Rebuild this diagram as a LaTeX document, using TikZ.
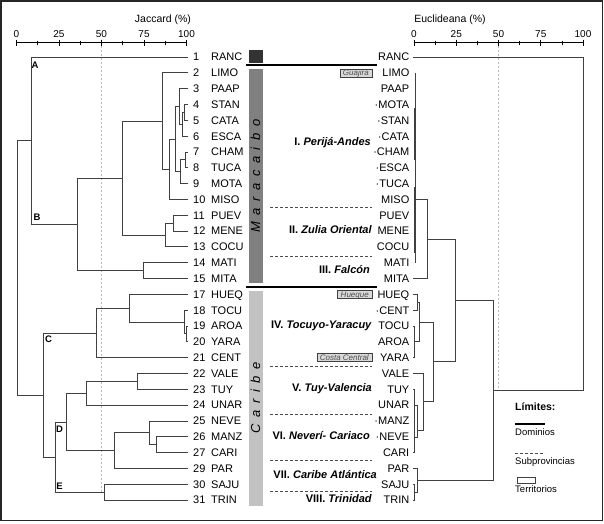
\documentclass[tikz,border=0pt]{standalone}
\usepackage{fontspec}
\setmainfont{Liberation Sans}
\usepackage{xcolor}
\definecolor{darkbar}{gray}{0.2}
\definecolor{marabar}{gray}{0.5}
\definecolor{caribar}{gray}{0.76}
\definecolor{treeline}{gray}{0.25}

\begin{document}
\begin{tikzpicture}[x=1pt,y=-1pt,
  tree/.style={treeline,line width=0.8pt},
  lab/.style={font=\fontsize{11}{12}\selectfont,text height=7.9pt,text depth=0pt},
  num/.style={lab,anchor=west},
  lname/.style={lab,anchor=west},
  rname/.style={lab,anchor=east},
  axistitle/.style={font=\fontsize{10.5}{12}\selectfont},
  ticklab/.style={font=\fontsize{10}{12}\selectfont,text height=7.2pt,text depth=0pt},
  clus/.style={font=\fontsize{9.5}{10}\selectfont\bfseries},
  subprov/.style={font=\fontsize{11}{12}\selectfont\bfseries,anchor=east,text height=7.9pt,text depth=2pt},
  terr/.style={draw=black!75,fill=gray!30,text=black!70,line width=0.5pt,anchor=east,
    font=\fontsize{8}{9}\selectfont\itshape,inner xsep=3pt,inner ysep=1pt,text height=5.8pt,text depth=0pt},
  barlab/.style={rotate=90,font=\fontsize{13}{14}\selectfont\itshape\addfontfeature{LetterSpace=50}},
  sep/.style={black!70,line width=0.6pt,dash pattern=on 3pt off 2pt},
  dom/.style={black,line width=2.6pt},
  guide/.style={gray!55,line width=0.6pt,dash pattern=on 2pt off 2pt},
  legtext/.style={font=\fontsize{9.5}{11}\selectfont,anchor=west}]
\tikzstyle{every node}+=[inner sep=0pt]
\useasboundingbox (0,0) rectangle (604,523);
\draw [black!85,line width=1.2pt] (1,1) rectangle (602.5,520.5);
% axes
\draw (163,20) node[axistitle] (jac) {Jaccard (\%)};
\draw (450,20) node[axistitle] (euc) {Euclideana (\%)};
\draw [black,line width=0.8pt] (16.5,42.5) -- (186.5,42.5)
  (16.5,39.5) -- (16.5,45.5) (59,39.5) -- (59,45.5) (101.5,39.5) -- (101.5,45.5)
  (144,39.5) -- (144,45.5) (186.5,39.5) -- (186.5,45.5)
  (37.75,40.5) -- (37.75,44.5) (80.25,40.5) -- (80.25,44.5)
  (122.75,40.5) -- (122.75,44.5) (165.25,40.5) -- (165.25,44.5);
\draw [black,line width=0.8pt] (414,42.5) -- (583,42.5)
  (414,39.5) -- (414,45.5) (456.25,39.5) -- (456.25,45.5) (498.5,39.5) -- (498.5,45.5)
  (540.75,39.5) -- (540.75,45.5) (583,39.5) -- (583,45.5)
  (435.1,40.5) -- (435.1,44.5) (477.4,40.5) -- (477.4,44.5)
  (519.6,40.5) -- (519.6,44.5) (561.9,40.5) -- (561.9,44.5);
\draw (16.5,33.5) node[ticklab] {0} (59,33.5) node[ticklab] {25} (101.5,33.5) node[ticklab] {50}
  (144,33.5) node[ticklab] {75} (186.5,33.5) node[ticklab] {100};
\draw (414,33.5) node[ticklab] {0} (456.25,33.5) node[ticklab] {25} (498.5,33.5) node[ticklab] {50}
  (540.75,33.5) node[ticklab] {75} (583,33.5) node[ticklab] {100};
\draw [guide] (101.5,46) -- (101.5,493);
\draw [guide] (498.5,46) -- (498.5,388);
% bars
\fill [darkbar] (248.5,49.5) rectangle (263,63);
\fill [marabar] (248.5,69) rectangle (263,283);
\fill [caribar] (248.5,291) rectangle (263,506);
\draw (255.5,176) node[barlab] (mara) {Maracaibo};
\draw (255.5,398) node[barlab] (cari) {Caribe};
\draw [dom] (246,65) -- (377,65);
\draw [dom] (246,287) -- (377,287);
% leaves
\draw (193,57) node[num] (n1) {1} (211,57) node[lname] (l1) {RANC} (409.5,57) node[rname] (r1) {RANC};
\draw (193,72.8) node[num] (n2) {2} (211,72.8) node[lname] (l2) {LIMO} (409.5,72.8) node[rname] (r2) {LIMO};
\draw (193,88.6) node[num] (n3) {3} (211,88.6) node[lname] (l3) {PAAP} (409.5,88.6) node[rname] (r3) {PAAP};
\draw (193,104.5) node[num] (n4) {4} (211,104.5) node[lname] (l4) {STAN} (409.5,104.5) node[rname] (r4) {·MOTA};
\draw (193,120.3) node[num] (n5) {5} (211,120.3) node[lname] (l5) {CATA} (409.5,120.3) node[rname] (r5) {·STAN};
\draw (193,136.1) node[num] (n6) {6} (211,136.1) node[lname] (l6) {ESCA} (409.5,136.1) node[rname] (r6) {·CATA};
\draw (193,151.9) node[num] (n7) {7} (211,151.9) node[lname] (l7) {CHAM} (409.5,151.9) node[rname] (r7) {·CHAM};
\draw (193,167.7) node[num] (n8) {8} (211,167.7) node[lname] (l8) {TUCA} (409.5,167.7) node[rname] (r8) {·ESCA};
\draw (193,183.6) node[num] (n9) {9} (211,183.6) node[lname] (l9) {MOTA} (409.5,183.6) node[rname] (r9) {·TUCA};
\draw (193,199.4) node[num] (n10) {10} (211,199.4) node[lname] (l10) {MISO} (409.5,199.4) node[rname] (r10) {MISO};
\draw (193,215.2) node[num] (n11) {11} (211,215.2) node[lname] (l11) {PUEV} (409.5,215.2) node[rname] (r11) {PUEV};
\draw (193,231) node[num] (n12) {12} (211,231) node[lname] (l12) {MENE} (409.5,231) node[rname] (r12) {MENE};
\draw (193,246.8) node[num] (n13) {13} (211,246.8) node[lname] (l13) {COCU} (409.5,246.8) node[rname] (r13) {COCU};
\draw (193,262.7) node[num] (n14) {14} (211,262.7) node[lname] (l14) {MATI} (409.5,262.7) node[rname] (r14) {MATI};
\draw (193,278.5) node[num] (n15) {15} (211,278.5) node[lname] (l15) {MITA} (409.5,278.5) node[rname] (r15) {MITA};
\draw (193,294.3) node[num] (n17) {17} (211,294.3) node[lname] (l17) {HUEQ} (409.5,294.3) node[rname] (r17) {HUEQ};
\draw (193,310.1) node[num] (n18) {18} (211,310.1) node[lname] (l18) {TOCU} (409.5,310.1) node[rname] (r18) {·CENT};
\draw (193,325.9) node[num] (n19) {19} (211,325.9) node[lname] (l19) {AROA} (409.5,325.9) node[rname] (r19) {TOCU};
\draw (193,341.8) node[num] (n20) {20} (211,341.8) node[lname] (l20) {YARA} (409.5,341.8) node[rname] (r20) {AROA};
\draw (193,357.6) node[num] (n21) {21} (211,357.6) node[lname] (l21) {CENT} (409.5,357.6) node[rname] (r21) {YARA};
\draw (193,373.4) node[num] (n22) {22} (211,373.4) node[lname] (l22) {VALE} (409.5,373.4) node[rname] (r22) {VALE};
\draw (193,389.2) node[num] (n23) {23} (211,389.2) node[lname] (l23) {TUY} (409.5,389.2) node[rname] (r23) {TUY};
\draw (193,405) node[num] (n24) {24} (211,405) node[lname] (l24) {UNAR} (409.5,405) node[rname] (r24) {UNAR};
\draw (193,420.9) node[num] (n25) {25} (211,420.9) node[lname] (l25) {NEVE} (409.5,420.9) node[rname] (r25) {·MANZ};
\draw (193,436.7) node[num] (n26) {26} (211,436.7) node[lname] (l26) {MANZ} (409.5,436.7) node[rname] (r26) {·NEVE};
\draw (193,452.5) node[num] (n27) {27} (211,452.5) node[lname] (l27) {CARI} (409.5,452.5) node[rname] (r27) {CARI};
\draw (193,468.3) node[num] (n29) {29} (211,468.3) node[lname] (l29) {PAR} (409.5,468.3) node[rname] (r29) {PAR};
\draw (193,484.1) node[num] (n30) {30} (211,484.1) node[lname] (l30) {SAJU} (409.5,484.1) node[rname] (r30) {SAJU};
\draw (193,500) node[num] (n31) {31} (211,500) node[lname] (l31) {TRIN} (409.5,500) node[rname] (r31) {TRIN};
% Jaccard tree
\draw [tree] (17,140.65) -- (31,140.65) (17,140.65) |- (43,395);
\draw [tree] (187.5,57) -| (31,224.3) -- (77,224.3);
\draw [tree] (122.5,178) -| (77,270.6) -- (143,270.6);
\draw [tree] (187.5,262.7) -| (143,278.5) -- (187.5,278.5);
\draw [tree] (162,121) -| (122.5,234.95) -- (165,234.95);
\draw [tree] (187.5,72.8) -| (162,169.2) -- (169,169.2);
\draw [tree] (175,139.05) -| (169,199.4) -- (187.5,199.4);
\draw [tree] (179,106.4) -| (175,171.7) -- (180.5,171.7);
\draw [tree] (187.5,88.6) -| (179,124.25) -- (182,124.25);
\draw [tree] (184.3,112.4) -| (182,136.1) -- (187.5,136.1);
\draw [tree] (187.5,104.5) -| (184.3,120.3) -- (187.5,120.3);
\draw [tree] (185,159.8) -| (180.5,183.6) -- (187.5,183.6);
\draw [tree] (187.5,151.9) -| (185,167.7) -- (187.5,167.7);
\draw [tree] (173,223.1) -| (165,246.8) -- (187.5,246.8);
\draw [tree] (187.5,215.2) -| (173,231) -- (187.5,231);
\draw [tree] (96,332.9) -| (43,457) -- (55,457);
\draw [tree] (129.5,308.1) -| (96,357.6) -- (187.5,357.6);
\draw [tree] (187.5,294.3) -| (129.5,322) -- (184,322);
\draw [tree] (187.5,310.1) -| (184,333.85) -- (186.8,333.85);
\draw [tree] (187.5,325.9) -| (186.8,341.8) -- (187.5,341.8);
\draw [tree] (66,421.9) -| (55,492) -- (104,492);
\draw [tree] (86,393.2) -| (66,450.5) -- (114,450.5);
\draw [tree] (137,381.3) -| (86,405) -- (187.5,405);
\draw [tree] (187.5,373.4) -| (137,389.2) -- (187.5,389.2);
\draw [tree] (149,432.75) -| (114,468.3) -- (187.5,468.3);
\draw [tree] (187.5,420.9) -| (149,444.6) -- (156,444.6);
\draw [tree] (187.5,436.7) -| (156,452.5) -- (187.5,452.5);
\draw [tree] (187.5,484.1) -| (104,500) -- (187.5,500);
\draw (35,65) node[clus] (cA) {A} (37,217) node[clus] (cB) {B} (48.5,339.5) node[clus] (cC) {C}
  (59.5,429.5) node[clus] (cD) {D} (59.5,486) node[clus] (cE) {E};
% Euclidean tree
\draw [tree] (413,57) -| (583,390.3) -- (493,390.3);
\draw [tree] (455,300.4) -| (493,480.2) -- (417.5,480.2);
\draw [tree] (427,239) -| (455,361.85) -- (433,361.85);
\draw [tree] (415,72.8) -- (415,262.7);
\draw [tree,line width=1.4pt] (415,108) -- (415,160) (415,187) -- (415,253);
\draw [tree] (415,199.4) -| (427,278.5) -- (413,278.5);
\draw [tree] (413,294.3) -| (417,310.1) -- (413,310.1);
\draw [tree] (413,325.9) -| (414.5,357.6) -- (413,357.6);
\draw [tree] (417,302.2) -| (419,341.8) -- (414.5,341.8);
\draw [tree] (419,322) -| (433,401.7) -- (423,401.7);
\draw [tree] (413,389.2) -| (414.5,452.5) -- (413,452.5);
\draw [tree] (414.5,405) -| (417.5,437) -- (414.5,437);
\draw [tree] (413,373.4) -| (423,430) -- (417.5,430);
\draw [tree] (413,484.1) -| (414.5,500) -- (413,500);
\draw [tree] (413,468.3) -| (417.5,492) -- (414.5,492);
% subprovinces and territories
\draw [sep] (270,207) -- (372,207) (270,256.5) -- (372,256.5) (270,366.5) -- (372,366.5)
  (270,414) -- (372,414) (270,460.5) -- (372,460.5) (270,491.5) -- (372,491.5);
\draw (371,143) node[subprov] (sp1) {I. \textit{Perijá-Andes}};
\draw (372,231) node[subprov] (sp2) {II. \textit{Zulia Oriental}};
\draw (370,271) node[subprov] (sp3) {III. \textit{Falcón}};
\draw (372,326) node[subprov] (sp4) {IV. \textit{Tocuyo-Yaracuy}};
\draw (372,389) node[subprov] (sp5) {V. \textit{Tuy-Valencia}};
\draw (370,437) node[subprov] (sp6) {VI. \textit{Neverí- Cariaco}};
\draw (377,476) node[subprov] (sp7) {VII. \textit{Caribe Atlántica}};
\draw (372,500) node[subprov] (sp8) {VIII. \textit{Trinidad}};
\draw (372,73) node[terr] (t1) {Guajira};
\draw (372,294.3) node[terr] (t2) {Hueque};
\draw (372,357.6) node[terr] (t3) {Costa Central};
% legend
\draw (515,407) node[anchor=west,font=\fontsize{10.5}{12}\selectfont\bfseries] (lim) {Límites:};
\draw [dom] (515,424) -- (545,424);
\draw (515,432.5) node[legtext] (ld) {Dominios};
\draw [sep] (515,453) -- (545,453);
\draw (515,462) node[legtext] (ls) {Subprovincias};
\draw [black!75,line width=0.6pt] (517,477.5) rectangle (535,483.5);
\draw (515,489) node[legtext] (lt) {Territorios};
\end{tikzpicture}
\end{document}
